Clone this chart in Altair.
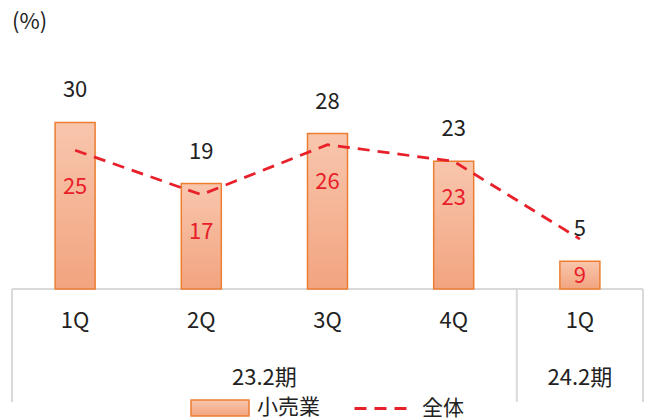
import altair as alt
import pandas as pd

# ---- data ----
quarters = ["1Q", "2Q", "3Q", "4Q", "1Q"]
slot = [0.5, 1.5, 2.5, 3.5, 4.5]          # category slot centers
retail = [30, 19, 28, 23, 5]              # 小売業 (bars)
overall = [25, 17, 26, 23, 9]             # 全体 (line)
periods = ["23.2期", "24.2期"]
period_center = [2.0, 4.5]
dividers = [0, 4, 5]

FONT = "Noto Sans CJK JP"
TXT = "#222222"
RED = "#e8202a"
ORANGE = "#ed7d31"

# scale layout (whole canvas is the plot area)
XDOM = [-0.0951, 5.0238]
YDOM = [-23.60, 52.07]
TICK_Y = -5.77
GROUP_Y = -16.04
FRAME_BOTTOM = -20.36
UNIT_Y = 48.1

df = pd.DataFrame({"q": quarters, "s": slot, "retail": retail, "overall": overall,
                   "bar": ["小売業"] * 5, "line": ["全体"] * 5,
                   "ty": [TICK_Y] * 5})
dfp = pd.DataFrame({"p": periods, "c": period_center, "gy": [GROUP_Y] * 2})
dfd = pd.DataFrame({"d": dividers, "y0": [0] * 3, "y1": [FRAME_BOTTOM] * 3})
dfh = pd.DataFrame({"a": [0], "b": [5], "y": [0], "u": ["(%)"], "uy": [UNIT_Y]})

X = alt.Scale(domain=XDOM, nice=False, zero=False, padding=0)
Y = alt.Scale(domain=YDOM, nice=False, zero=False, padding=0)

xs = alt.X("s:Q", scale=X, axis=None)

grad = alt.Gradient(
    gradient="linear", x1=0, y1=0, x2=0, y2=1,
    stops=[alt.GradientStop(color="#f8c6ad", offset=0),
           alt.GradientStop(color="#f2a47f", offset=1)],
)

bars = alt.Chart(df).mark_bar(size=40, fill=grad, strokeWidth=1.5).encode(
    x=xs,
    y=alt.Y("retail:Q", scale=Y, axis=None),
    y2=alt.datum(0),
    stroke=alt.Stroke("bar:N", scale=alt.Scale(domain=["小売業"], range=[ORANGE]),
                      legend=alt.Legend(title=None, orient="none", legendX=190, legendY=378,
                                        symbolType="M-1,-0.276H1V0.276H-1Z", symbolSize=3364,
                                        symbolFillColor="#f5b593", symbolStrokeWidth=1.5,
                                        labelFont=FONT, labelFontSize=21, labelColor=TXT,
                                        labelOffset=7, padding=0)),
)

bar_labels = alt.Chart(df).mark_text(font=FONT, fontSize=22, color=TXT, dy=-32).encode(
    x=xs, y=alt.Y("retail:Q", scale=Y, axis=None), text="retail:Q")

line = alt.Chart(df).mark_line(color=RED, strokeWidth=2.75).encode(
    x=xs,
    y=alt.Y("overall:Q", scale=Y, axis=None),
    strokeDash=alt.StrokeDash("line:N", scale=alt.Scale(domain=["全体"], range=[[12, 8]]),
                              legend=alt.Legend(title=None, orient="none", legendX=353, legendY=381,
                                                symbolType="M-1,0H1", symbolSize=2704,
                                                symbolStrokeColor=RED, symbolStrokeWidth=3,
                                                labelFont=FONT, labelFontSize=21, labelColor=TXT,
                                                labelOffset=14, padding=0)),
)

line_labels = alt.Chart(df).mark_text(font=FONT, fontSize=22, color=RED, dy=37).encode(
    x=xs, y=alt.Y("overall:Q", scale=Y, axis=None), text="overall:Q")

hrule = alt.Chart(dfh).mark_rule(color="#d9d9d9", strokeWidth=2).encode(
    x=alt.X("a:Q", scale=X, axis=None), x2="b", y=alt.Y("y:Q", scale=Y, axis=None))

vrules = alt.Chart(dfd).mark_rule(color="#d9d9d9", strokeWidth=2).encode(
    x=alt.X("d:Q", scale=X, axis=None), y=alt.Y("y0:Q", scale=Y, axis=None), y2="y1")

qlabels = alt.Chart(df).mark_text(font=FONT, fontSize=22, color=TXT).encode(
    x=xs, y=alt.Y("ty:Q", scale=Y, axis=None), text="q:N")

plabels = alt.Chart(dfp).mark_text(font=FONT, fontSize=22, color=TXT).encode(
    x=alt.X("c:Q", scale=X, axis=None), y=alt.Y("gy:Q", scale=Y, axis=None), text="p:N")

unit = alt.Chart(dfh).mark_text(font=FONT, fontSize=22, color=TXT, align="left").encode(
    x=alt.X("a:Q", scale=X, axis=None), y=alt.Y("uy:Q", scale=Y, axis=None), text="u:N")

chart = alt.layer(hrule, vrules, bars, bar_labels, line, line_labels, qlabels, plabels, unit).properties(
    width=646, height=420,
    autosize=alt.AutoSizeParams(type="none"),
    padding=0,
).configure_view(strokeWidth=0)

chart.save("out.html", embed_options={"renderer": "svg", "actions": False})
